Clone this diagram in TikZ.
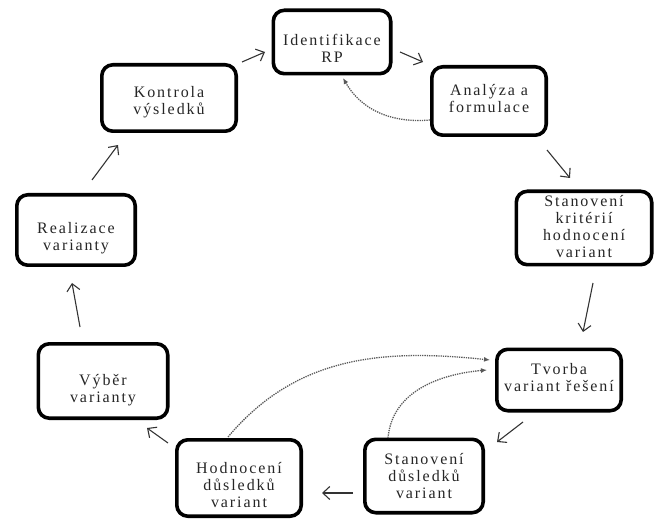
\documentclass[tikz,border=0pt]{standalone}
\usepackage{fontspec}
\setmainfont{Liberation Serif}
\newfontfamily\boxfont[LetterSpace=12]{Liberation Serif}
\usetikzlibrary{arrows.meta}
\newcommand\boxtxt[2]{\raisebox{#1}[\height][\depth]{\begin{tabular}{@{}c@{}}#2\end{tabular}}}
\begin{document}
\begin{tikzpicture}[x=1pt,y=1pt,
  stage/.style={draw=black, line width=3.6pt, rounded corners=11pt, fill=white, inner sep=0pt,
    font=\boxfont\fontsize{16}{17}\selectfont, text=black!85},
  arr/.style={draw=black!80, line width=1.1pt, -{Straight Barb[length=7pt,width=13pt]}},
  back/.style={draw=black!65, line width=1.3pt, densely dotted, -{Latex[length=6pt,width=5pt]}}]
\useasboundingbox (0,0) rectangle (656,520);
\node[stage, minimum width=117.4pt, minimum height=63.4pt] (id) at (332,478) {\boxtxt{-9pt}{Identifikace\\RP}};
\node[stage, minimum width=114.4pt, minimum height=68.4pt] (an) at (489,419) {\boxtxt{0pt}{Analýza a\\formulace}};
\node[stage, minimum width=134.4pt, minimum height=66.4pt] (ko) at (169,422) {\boxtxt{-5pt}{Kontrola\\výsledků}};
\node[stage, minimum width=118.4pt, minimum height=70.4pt] (re) at (76,290) {\boxtxt{-9pt}{Realizace\\varianty}};
\node[stage, minimum width=135.4pt, minimum height=73.4pt] (sk) at (584,292) {\boxtxt{-1pt}{Stanovení\\kritérií\\hodnocení\\variant}};
\node[stage, minimum width=124.4pt, minimum height=61.4pt] (tv) at (559,140) {\boxtxt{0pt}{Tvorba\\variant řešení}};
\node[stage, minimum width=118.4pt, minimum height=73.4pt] (sd) at (424,44) {\boxtxt{-2pt}{Stanovení\\důsledků\\variant}};
\node[stage, minimum width=124.4pt, minimum height=76.4pt] (ho) at (239,42) {\boxtxt{-9pt}{Hodnocení\\důsledků\\variant}};
\node[stage, minimum width=129.4pt, minimum height=74.4pt] (vy) at (103,139) {\boxtxt{-10pt}{Výběr\\varianty}};
\draw[arr] ([shift={(73,36)}]ko.center) -- ([shift={(-67,-10)}]id.center);
\draw[arr] ([shift={(68,-10)}]id.center) -- ([shift={(-66,39)}]an.center);
\draw[arr] ([shift={(58,-49)}]an.center) -- ([shift={(-14,50)}]sk.center);
\draw[arr] ([shift={(9,-55)}]sk.center) -- ([shift={(24,48)}]tv.center);
\draw[arr] ([shift={(-36,-42)}]tv.center) -- ([shift={(73,34)}]sd.center);
\draw[arr] ([shift={(-71,-17)}]sd.center) -- ([shift={(83,-15)}]ho.center);
\draw[arr] ([shift={(-71,35)}]ho.center) -- ([shift={(44,-47)}]vy.center);
\draw[arr] ([shift={(-23,54)}]vy.center) -- ([shift={(-4,-53)}]re.center);
\draw[arr] ([shift={(16,50)}]re.center) -- ([shift={(-51,-47)}]ko.center);
\draw[back] ([shift={(-59,-19)}]an.center) to[out=185,in=-60] ([shift={(11,-36)}]id.center);
\draw[back] ([shift={(-11,41)}]ho.center) to[out=50,in=174] ([shift={(-69,20)}]tv.center);
\draw[back] ([shift={(-36,38)}]sd.center) to[out=85,in=185] ([shift={(-72,10)}]tv.center);
\end{tikzpicture}
\end{document}
